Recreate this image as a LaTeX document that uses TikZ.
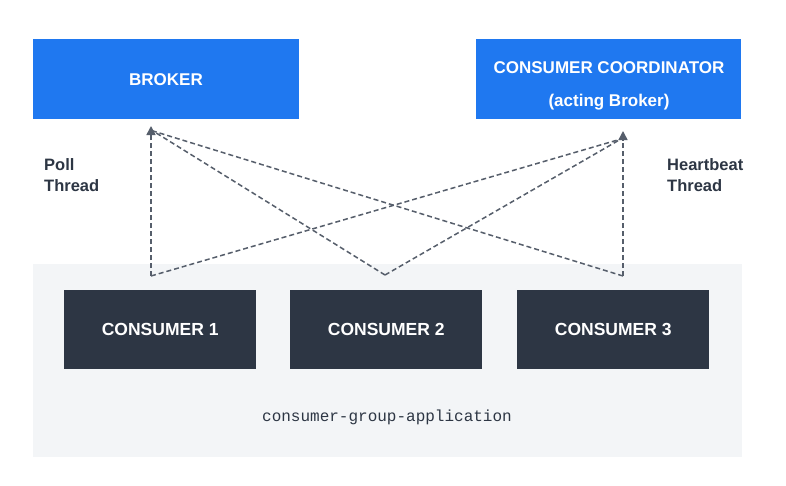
\documentclass[tikz,border=0pt]{standalone}
\usepackage{fontspec}
\setmainfont{Liberation Sans}
\setmonofont{Liberation Mono}
\usetikzlibrary{arrows.meta}
\definecolor{bblue}{HTML}{1F78F0}
\definecolor{cdark}{HTML}{2D3644}
\definecolor{bggrey}{HTML}{F3F5F7}
\definecolor{lgrey}{HTML}{565E6B}
\begin{document}
\begin{tikzpicture}[x=1pt,y=-1pt,
  bluebox/.style={fill=bblue,draw=none,inner sep=0pt},
  bluetext/.style={text=white,font=\fontsize{17}{33}\selectfont\bfseries,align=center,inner sep=0pt},
  darkbox/.style={fill=cdark,draw=none,text=white,font=\fontsize{17.5}{20}\selectfont\bfseries,minimum width=192pt,minimum height=79pt,inner sep=0pt},
  lbl/.style={text=cdark,font=\fontsize{16.5}{21}\selectfont\bfseries,align=left,anchor=north west,inner sep=0pt},
  conn/.style={draw=lgrey,line width=1.5pt,dash pattern=on 5pt off 3pt},
  arr/.style={conn,-{Triangle[length=9pt,width=9pt]}}]
\useasboundingbox (0,0) rectangle (786,485);
\fill[white] (0,0) rectangle (786,485);
\node[fill=bggrey,minimum width=709pt,minimum height=193pt,inner sep=0pt,anchor=north west] (grp) at (33,264) {};
\node[bluebox,minimum width=266pt,minimum height=80pt,anchor=north west] (broker) at (33,39) {};
\node[bluetext] (brokertxt) at (166,80) {BROKER};
\node[bluebox,minimum width=265pt,minimum height=80pt,anchor=north west] (coord) at (476,39) {};
\node[bluetext] (coordtxt) at (609,86) {CONSUMER COORDINATOR\\(acting Broker)};
\node[darkbox,anchor=north west] (c1) at (64,290) {CONSUMER 1};
\node[darkbox,anchor=north west] (c2) at (290,290) {CONSUMER 2};
\node[darkbox,anchor=north west] (c3) at (517,290) {CONSUMER 3};
\node[text=cdark,font=\fontsize{16}{20}\selectfont\ttfamily] (app) at (387,417) {consumer-group-application};
\node[lbl] (poll) at (44,158) {Poll\\Thread};
\node[lbl] (hb) at (667,158) {Heartbeat\\Thread};
\coordinate (p1) at (151,276);
\coordinate (p2) at (385,275);
\coordinate (p3) at (623,276);
\coordinate (bt) at (151,126);
\coordinate (ct) at (623,131);
\coordinate (bt2) at (153,131);
\coordinate (ct2) at (621,139);
\draw[conn] (p2) -- (bt2);
\draw[conn] (p3) -- (bt2);
\draw[conn] (p1) -- (ct2);
\draw[conn] (p2) -- (ct2);
\draw[arr] (p1) -- (bt);
\draw[arr] (p3) -- (ct);
\end{tikzpicture}
\end{document}
